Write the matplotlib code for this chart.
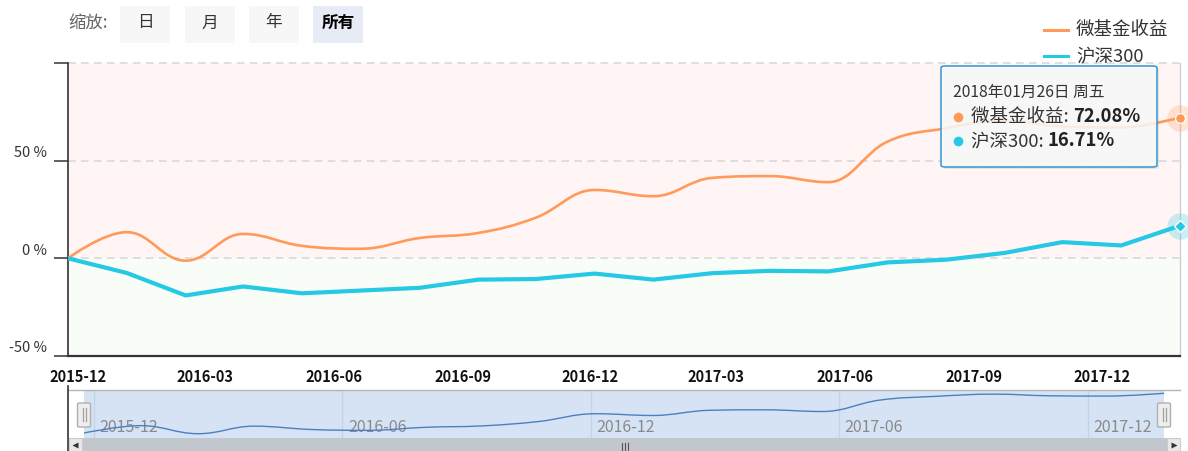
import matplotlib
matplotlib.use('Agg')
import matplotlib.pyplot as plt
import matplotlib.dates as mdates
from matplotlib.path import Path
from matplotlib.patches import PathPatch, FancyBboxPatch, Rectangle
from matplotlib.lines import Line2D
from matplotlib.transforms import ScaledTranslation
import numpy as np
import pandas as pd

plt.rcParams['font.family'] = ['Noto Sans CJK SC', 'DejaVu Sans']

# ---------------- data ----------------
dates = ['2015-11-24', '2016-01-05', '2016-02-16', '2016-03-28', '2016-05-09',
         '2016-06-20', '2016-08-01', '2016-09-12', '2016-10-23', '2016-12-04',
         '2017-01-15', '2017-02-26', '2017-04-08', '2017-05-20', '2017-07-01',
         '2017-08-12', '2017-09-23', '2017-11-03', '2017-12-15', '2018-01-26']
fund_returns = [0.0, 13.4, -1.2, 12.5, 6.4, 4.9, 10.4, 13.0, 20.8, 35.0,
                31.8, 41.2, 42.1, 39.0, 59.7, 66.6, 70.5, 67.5, 67.0, 72.08]
hs300_returns = [0.0, -7.5, -19.0, -14.4, -17.9, -16.5, -15.1, -10.9, -10.6, -7.8,
                 -10.9, -7.6, -6.4, -6.7, -2.1, -0.7, 2.8, 8.3, 6.6, 16.71]
series_names = ['微基金收益', '沪深300']
x_ticks = ['2015-12-01', '2016-03-01', '2016-06-01', '2016-09-01', '2016-12-01',
           '2017-03-01', '2017-06-01', '2017-09-01', '2017-12-01']
nav_ticks = ['2015-12-01', '2016-06-01', '2016-12-01', '2017-06-01', '2017-12-01']
y_ticks = [-50, 0, 50]
range_buttons = ['日', '月', '年', '所有']
zoom_label = '缩放:'
tooltip_date = '2018年01月26日 周五'

ORANGE = '#ff9a5a'
CYAN = '#26c9e3'

W, H = 1188, 451
fig = plt.figure(figsize=(W / 100, H / 100), dpi=100)


def fx(x):
    return x / W


def fy(y):
    return 1 - y / H


def spline_path(xs, ys, smoothing=1.5):
    n = len(xs)
    denom = smoothing + 1
    rc = [(xs[0], ys[0])] * n
    verts = [(xs[0], ys[0])]
    codes = [Path.MOVETO]
    for i in range(1, n):
        px, py = xs[i], ys[i]
        lcx, lcy = px, py
        if i < n - 1:
            lx, ly = xs[i - 1], ys[i - 1]
            nx, ny = xs[i + 1], ys[i + 1]
            lcx = (smoothing * px + lx) / denom
            lcy = (smoothing * py + ly) / denom
            rcx = (smoothing * px + nx) / denom
            rcy = (smoothing * py + ny) / denom
            corr = 0
            if rcx != lcx:
                corr = (rcy - lcy) * (rcx - px) / (rcx - lcx) + py - rcy
            lcy += corr
            rcy += corr
            if lcy > ly and lcy > py:
                lcy = max(ly, py); rcy = 2 * py - lcy
            elif lcy < ly and lcy < py:
                lcy = min(ly, py); rcy = 2 * py - lcy
            if rcy > ny and rcy > py:
                rcy = max(ny, py); lcy = 2 * py - rcy
            elif rcy < ny and rcy < py:
                rcy = min(ny, py); lcy = 2 * py - rcy
            rc[i] = (rcx, rcy)
        prev = rc[i - 1] if i - 1 > 0 else (xs[i - 1], ys[i - 1])
        verts += [prev, (lcx, lcy), (px, py)]
        codes += [Path.CURVE4] * 3
    return Path(verts, codes)


xd = mdates.date2num(pd.to_datetime(dates))
fund = np.array(fund_returns)
hs = np.array(hs300_returns)

# ---------------- main axes ----------------
ax = fig.add_axes([fx(68), fy(356), (1180 - 68) / W, (356 - 63) / H])
ax.set_xlim(xd[0], xd[-1])
ax.set_ylim(-50, 100)
ax.axhspan(0, 100, color='#fff5f5', zorder=0)
ax.axhspan(-50, 0, color='#f8fdf7', zorder=0)
for g in [0, 50, 100]:
    ax.axhline(g, color='#d6d6d6', lw=1.1, ls=(0, (5, 3.5)), zorder=1, clip_on=False)
ax.axvline(xd[-1], color='#cfcfcf', lw=1, zorder=1, clip_on=False)

ax.add_patch(PathPatch(spline_path(xd, fund), fill=False, edgecolor=ORANGE,
                       lw=1.9, zorder=3, capstyle='round', joinstyle='round'))
ax.plot(xd, hs, color=CYAN, lw=3.0, zorder=3, solid_joinstyle='round')

# hover markers
ax.plot(xd[-1], fund[-1], 'o', ms=19, color=ORANGE, alpha=0.25, mec='none', clip_on=False, zorder=4)
ax.plot(xd[-1], fund[-1], 'o', ms=7, color=ORANGE, mec='white', mew=0.8, clip_on=False, zorder=5)
ax.plot(xd[-1], hs[-1], 'o', ms=19, color=CYAN, alpha=0.25, mec='none', clip_on=False, zorder=4)
ax.plot(xd[-1], hs[-1], 'D', ms=6, color=CYAN, mec='white', mew=1.0, clip_on=False, zorder=5)

for s in ['top', 'right']:
    ax.spines[s].set_visible(False)
ax.spines['left'].set_color('#333333')
ax.spines['left'].set_linewidth(1.2)
ax.spines['bottom'].set_color('#333333')
ax.spines['bottom'].set_linewidth(1.6)

ax.set_xticks(mdates.date2num(pd.to_datetime(x_ticks)))
ax.set_xticklabels([d[:7] for d in x_ticks], fontsize=10.5, fontweight='bold', color='#111111')
ax.tick_params(axis='x', length=0, pad=9)

ax.set_yticks(y_ticks + [100])
ax.set_yticklabels([f'{v} %' for v in y_ticks] + [''], fontsize=10.5, color='#333333')
ax.tick_params(axis='y', length=10, width=1.1, color='#333333', pad=5)
for lab in ax.get_yticklabels():
    lab.set_transform(lab.get_transform() + ScaledTranslation(0, 9 / 100, fig.dpi_scale_trans))

# ---------------- legend ----------------
fig.add_artist(Line2D([fx(1044), fx(1068)], [fy(30), fy(30)], color=ORANGE, lw=2.2))
fig.add_artist(Line2D([fx(1044), fx(1068)], [fy(56), fy(56)], color=CYAN, lw=2.2))
fig.text(fx(1076), fy(30), series_names[0], fontsize=13.3, color='#333333', va='center', ha='left')
fig.text(fx(1076), fy(56), series_names[1], fontsize=13.3, color='#333333', va='center', ha='left')

# ---------------- range selector ----------------
fig.text(fx(68), fy(23), zoom_label, fontsize=12.5, color='#666666', va='center', ha='left')
btn_x = [120, 185, 249, 313]
for i, (bx, lab) in enumerate(zip(btn_x, range_buttons)):
    active = i == len(range_buttons) - 1
    fig.add_artist(Rectangle((fx(bx), fy(43)), 50 / W, 37 / H, transform=fig.transFigure,
                             facecolor='#e6ebf5' if active else '#f7f7f7', edgecolor='none'))
    fig.text(fx(bx + 25), fy(23), lab, fontsize=12, ha='center', va='center',
             color='#000000' if active else '#333333', fontweight='bold' if active else 'normal')

# ---------------- tooltip ----------------
fig.add_artist(FancyBboxPatch((fx(943), fy(169)), 216 / W, 101 / H, transform=fig.transFigure,
                              boxstyle='round,pad=0,rounding_size=0.004',
                              facecolor='#000000', alpha=0.08, edgecolor='none', zorder=9))
fig.add_artist(FancyBboxPatch((fx(941), fy(167)), 216 / W, 101 / H, transform=fig.transFigure,
                              boxstyle='round,pad=0,rounding_size=0.004',
                              facecolor=(0.985, 0.985, 0.985, 0.86), edgecolor='#3f9fd4', lw=1.2, zorder=10))
fig.text(fx(953), fy(92), tooltip_date, fontsize=11.3, color='#333333', va='center', ha='left', zorder=11)
rows = [(series_names[0], fund[-1], ORANGE, 117), (series_names[1], hs[-1], CYAN, 141)]
fig.canvas.draw()
rend = fig.canvas.get_renderer()
for name, val, col, yy in rows:
    fig.add_artist(Line2D([fx(958)], [fy(yy)], marker='o', ms=7, color=col, mec='none', zorder=11))
    t = fig.text(fx(971), fy(yy), f'{name}: ', fontsize=13.3, color='#333333', va='center', ha='left', zorder=11)
    bb = t.get_window_extent(rend)
    fig.text(bb.x1 / W, fy(yy), f'{val:.2f}%', fontsize=13.3, fontweight='bold', color='#222222',
             va='center', ha='left', zorder=11)

# ---------------- navigator ----------------
fig.add_artist(Rectangle((fx(68), fy(438)), (1180 - 68) / W, 48 / H, transform=fig.transFigure,
                         facecolor='white', edgecolor='none', zorder=0))
nav = fig.add_axes([fx(84), fy(438), (1164 - 84) / W, (438 - 390) / H])
nav.set_facecolor('#d5e3f5')
nav.set_xlim(xd[0], xd[-1])
nav.set_ylim(-9, 78)
for s in nav.spines.values():
    s.set_visible(False)
nav.set_xticks([])
nav.set_yticks([])
for d in mdates.date2num(pd.to_datetime(nav_ticks)):
    nav.axvline(d, color='#c4d3e6', lw=0.9, zorder=1)
    nav.text(d + 4, 0.22, pd.Timestamp(mdates.num2date(d)).strftime('%Y-%m'),
             transform=nav.get_xaxis_transform(), fontsize=11.5, color='#8a8a8a', ha='left', va='center', zorder=2)
nav.add_patch(PathPatch(spline_path(xd, fund), fill=False, edgecolor='#4d7fbf', lw=1.0, zorder=3))

fig.add_artist(Line2D([fx(68), fx(1180)], [fy(390), fy(390)], color='#b5b5b5', lw=1.0))
fig.add_artist(Line2D([fx(68), fx(68)], [fy(386), fy(451)], color='#333333', lw=1.2))

# handles
for hx in [84, 1164]:
    fig.add_artist(FancyBboxPatch((fx(hx - 6.5), fy(427)), 13 / W, 24 / H, transform=fig.transFigure,
                                  boxstyle='round,pad=0,rounding_size=0.002',
                                  facecolor='#eeeeee', edgecolor='#b0b0b0', lw=1.0, zorder=5))
    for dx in [-1.5, 1.5]:
        fig.add_artist(Line2D([fx(hx + dx), fx(hx + dx)], [fy(408), fy(421)], color='#a0a0a0', lw=0.9, zorder=6))

# scrollbar
fig.add_artist(Rectangle((fx(69), fy(451)), (1180 - 69) / W, 13 / H, transform=fig.transFigure,
                         facecolor='#c2c7cd', edgecolor='none', zorder=2))
for bx in [69, 1167]:
    fig.add_artist(Rectangle((fx(bx), fy(451)), 13 / W, 13 / H, transform=fig.transFigure,
                             facecolor='#e8e8e8', edgecolor='#cccccc', lw=0.8, zorder=3))
fig.add_artist(Line2D([fx(75)], [fy(445)], marker='<', ms=4, color='#333333', mec='none', zorder=4))
fig.add_artist(Line2D([fx(1174)], [fy(445)], marker='>', ms=4, color='#333333', mec='none', zorder=4))
for dx in [-3, 0, 3]:
    fig.add_artist(Line2D([fx(625 + dx), fx(625 + dx)], [fy(443), fy(450)], color='#555555', lw=0.8, zorder=4))

fig.savefig('out.png', dpi=100)
